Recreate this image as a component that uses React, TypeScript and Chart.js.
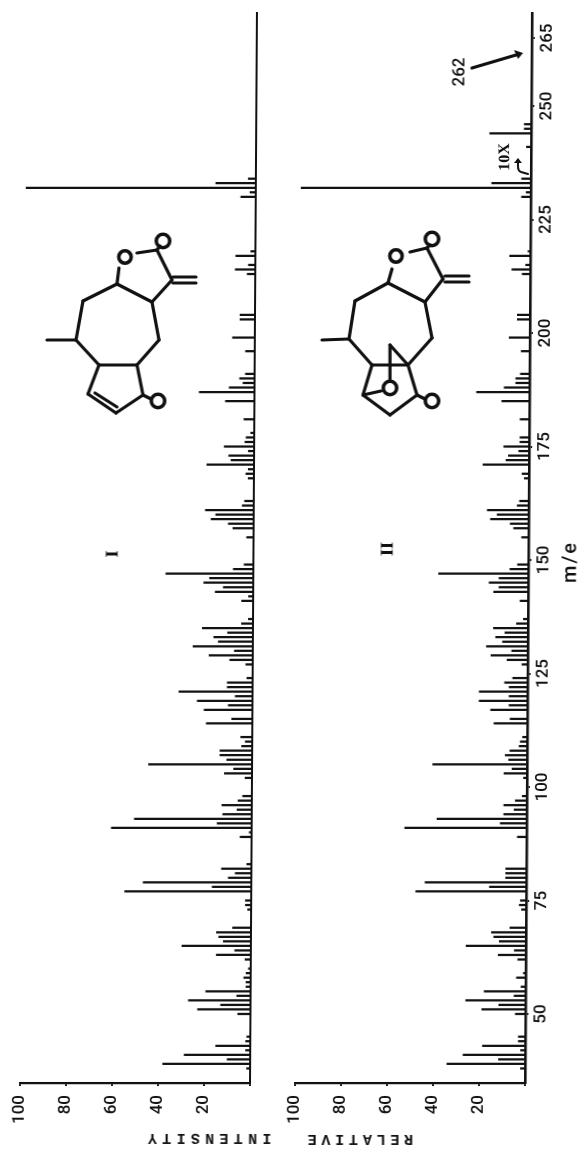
import React, { useEffect, useRef } from "react";
import { Chart, registerables } from "chart.js";

Chart.register(...registerables);

// m/e positions and relative intensities, compound I
const mzI = [38,39,40,41,42,43,44,45,50,51,52,53,54,55,56,57,58,59,60,62,63,64,65,66,67,68,69,73,74,75,77,78,79,80,81,82,83,89,90,91,92,93,94,95,96,97,98,102,103,104,105,106,107,108,109,110,111,114,115,117,118,119,120,121,122,123,124,127,128,129,130,131,132,133,134,135,136,137,141,142,143,144,145,146,147,148,149,155,157,158,159,160,161,162,163,168,169,170,171,172,173,174,175,176,177,178,181,185,187,188,189,190,191,196,199,203,204,213,214,215,217,218,230,231,232,233,234];
const intensityI = [1.5,38,10,28.7,2,15,2,1.5,5.5,23,13,27,6,19.5,2,2,3,2,1,2.5,15,7,30,12,14,15,8,1.5,2.5,2.5,55,17,47,10,7,13,2,5,1,61,15,51,12.6,6.4,13,6,4,3,12,8,45,11,14,14,4.6,3,5,20,9,21,10.5,24,7.5,32,11,11,2.5,3,10,19,8,26,15,17,11,22,5,2,5,2,16.5,13,21.5,19,38,8.7,4,3,9,11,18.5,16.5,21,5,4,2.5,3.5,2.5,20.5,10,11,2.5,13,4,3.5,1.5,4.5,12.6,24,11,5,6.5,4,4,9.7,6.5,6.5,3.5,8.7,3,8.5,2,6.5,2.5,100,17.4,3.3];

// m/e positions and relative intensities, compound II
const mzII = [38,39,40,41,42,43,44,45,50,51,52,53,54,55,56,58,59,62,63,64,65,66,67,68,69,73,74,75,77,78,79,80,81,82,89,91,92,93,94,95,96,97,98,102,103,104,105,106,107,108,109,110,111,114,115,117,118,119,120,121,122,123,124,127,128,129,130,131,132,133,134,135,136,137,141,143,144,145,146,147,148,149,155,157,158,159,160,161,162,163,168,169,171,172,173,174,175,176,177,181,185,187,188,189,190,191,196,199,203,204,213,214,215,217,218,230,231,232,233,234,241,244,245,246];
const intensityII = [2,34,11.6,27,2,18.6,3,3,4.4,19,11.6,26,5,18,2,4,1,3.5,12,5,26,11.6,14,15,7,2,3,2.5,48,16,44,9,9,9,4,53,11.5,39,10,5.5,10,5,2,1.5,10,6.5,41,8,9.5,7.5,3.5,3,2,14.5,7.5,16,8,21,8,21,8,10,6.5,2.5,9,16,7,18,11,14,10,15,5,2,3.5,15,12.7,17,12.7,39,8,4.7,3,6.5,8,16.6,13.7,18,5,4,2,3,20,10,9,4.5,11,4,4,4,12,23,11,6,6,4,3.7,9,5.5,5.5,3.5,8,2,9,1,4,2,100,17,4,2,18,3,3];

const mzTicks = [50,75,100,125,150,175,200,225,250,265];
const intensityTicks = [100,80,60,40,20,0];
const panelNames = ["I","II"];
const axisWords = ["INTENSITY","RELATIVE"];
const xTitle = "m/e";
const molecularIon = "262";
const scaleNote = "10X";

const INK = "#111111";
const SHEAR = 0.0065;
const MZ_MIN = 34.8;
const MZ_MAX = 270.5;
const LABEL_FONT = "500 17px Roboto";

type Seg = number[];
type Ring = [number, number, number];

const bondsI: Seg[] = [
  [137,253,157,250],[157,250,172,280],[173,277,196,277],[173,283,196,283],[172,280,152,302],
  [152,302,117,284],[117,284,119,268],[157,250,160,246],
  [117,284,83,301],[83,301,76,340],[76,340,47,340],[76,340,99,365],[152,302,159,340],[159,340,137,365],
  [99,365,137,365],[99,365,88,394],[88,394,116,413],[116,413,143,395],[143,395,137,365],[95,393,117,407],[143,395,151,399],
];
const ringsI: Ring[] = [[125,257,7],[163,241,7.5],[158,401,7.5]];

const bondsII: Seg[] = [
  [410,252,427,248],[427,248,443,279],[445,276,469,276],[445,282,469,282],[443,279,425,302],
  [425,302,388,283],[388,283,392,269],[427,248,430,245],
  [388,283,355,301],[355,301,349,339],[349,339,322,340],[349,339,372,365],[425,302,432,338],[432,338,408,365],
  [372,365,408,365],[372,365,363,395],[363,395,390,415],[390,415,417,395],[417,395,408,365],[417,395,425,399],
  [390,345,408,365],[390,345,390,380],[363,395,381,391],
  [472,68,516,55],
];
const ringsII: Ring[] = [[396,256,7],[432,239,7.5],[390,388,7.5],[432,401,7.5]];

type Label = { text: string; x: number; y: number; font: string; rot: number; spacing?: string };

const labelsI: Label[] = [
  { text: panelNames[0], x: 113, y: 554, font: "bold 18px 'Liberation Serif'", rot: -Math.PI / 2 },
  { text: axisWords[0], x: 207, y: 1138, font: "bold 15px 'Liberation Mono'", rot: Math.PI, spacing: "5.3px" },
];
const labelsII: Label[] = [
  { text: panelNames[1], x: 388, y: 549, font: "bold 18px 'Liberation Serif'", rot: -Math.PI / 2 },
  { text: axisWords[1], x: 358, y: 1139, font: "bold 15px 'Liberation Mono'", rot: Math.PI, spacing: "4.8px" },
  { text: xTitle, x: 571, y: 562, font: "500 20px Roboto", rot: -Math.PI / 2, spacing: "2px" },
  { text: molecularIon, x: 460, y: 72, font: LABEL_FONT, rot: -Math.PI / 2 },
  { text: scaleNote, x: 505, y: 157, font: "bold 16px 'Liberation Serif'", rot: -Math.PI / 2 },
];

function decorate(offsetX: number, bonds: Seg[], rings: Ring[], labels: Label[], extra?: (c: CanvasRenderingContext2D) => void) {
  return {
    id: "decorate",
    afterDraw(chart: any) {
      const c: CanvasRenderingContext2D = chart.ctx;
      c.save();
      // cancel the page shear for the drawings, which were read in page coordinates
      c.transform(1, 0, SHEAR, 1, -SHEAR * 1083, 0);
      c.translate(-offsetX, 0);
      c.strokeStyle = INK;
      c.fillStyle = INK;
      c.lineWidth = 3.2;
      c.lineCap = "round";
      for (const s of bonds) {
        c.beginPath();
        c.moveTo(s[0], s[1]);
        c.lineTo(s[2], s[3]);
        c.stroke();
      }
      c.lineWidth = 3.6;
      for (const r of rings) {
        c.beginPath();
        c.arc(r[0], r[1], r[2] - 0.8, 0, Math.PI * 2);
        c.stroke();
      }
      if (extra) extra(c);
      for (const l of labels) {
        c.save();
        c.translate(l.x, l.y);
        c.rotate(l.rot);
        c.font = l.font;
        (c as any).letterSpacing = l.spacing || "0px";
        c.textAlign = "center";
        c.textBaseline = "middle";
        c.fillText(l.text, 0, 0);
        c.restore();
      }
      c.restore();
    },
  };
}

function arrows(c: CanvasRenderingContext2D) {
  // head of the 262 arrow
  c.beginPath();
  c.moveTo(523, 53);
  c.lineTo(514, 50);
  c.lineTo(518, 59);
  c.closePath();
  c.fill();
  // bent 10X arrow
  c.lineWidth = 2;
  c.beginPath();
  c.moveTo(528, 174);
  c.lineTo(521, 172);
  c.quadraticCurveTo(518, 171, 518, 167);
  c.lineTo(518, 162);
  c.stroke();
  c.beginPath();
  c.moveTo(518, 158);
  c.lineTo(514, 163);
  c.lineTo(522, 163);
  c.closePath();
  c.fill();
}

function makePanel(
  canvas: HTMLCanvasElement,
  mz: number[],
  values: number[],
  axisSpace: number,
  showMzTicks: boolean,
  plugin: any,
) {
  const tickFont = { family: "Roboto", size: 17, weight: "500" };
  return new Chart(canvas, {
    type: "bar",
    data: {
      datasets: [
        {
          data: mz.map((m, i) => ({ x: values[i], y: m })),
          backgroundColor: INK,
          barThickness: 1.6,
          borderWidth: 0,
        },
      ],
    },
    options: {
      indexAxis: "y",
      animation: false,
      responsive: false,
      devicePixelRatio: 1,
      layout: { autoPadding: false, padding: { left: 20, top: 13, right: 0, bottom: 0 } },
      plugins: { legend: { display: false }, tooltip: { enabled: false } },
      scales: {
        x: {
          type: "linear",
          position: "bottom",
          reverse: true,
          min: 0,
          max: 100,
          border: { display: true, color: INK, width: 2.2 },
          grid: { display: true, drawOnChartArea: false, drawTicks: true, tickLength: 3, color: INK, lineWidth: 2 },
          afterFit(s: any) { s.height = 70; },
          afterBuildTicks(s: any) { s.ticks = intensityTicks.map((value) => ({ value })); },
          ticks: {
            autoSkip: false,
            minRotation: 90,
            maxRotation: 90,
            padding: 9,
            color: INK,
            font: tickFont,
            callback: (v: any) => (v === 0 ? "" : String(v)),
          },
        },
        y: {
          type: "linear",
          position: "right",
          offset: false,
          min: MZ_MIN,
          max: MZ_MAX,
          border: { display: true, color: INK, width: showMzTicks ? 2.6 : 2 },
          grid: { display: showMzTicks, offset: false, drawOnChartArea: false, drawTicks: true, tickLength: 3, color: INK, lineWidth: 2 },
          afterFit(s: any) { s.width = axisSpace; },
          afterBuildTicks(s: any) { s.ticks = mzTicks.map((value) => ({ value })); },
          ticks: {
            display: showMzTicks,
            autoSkip: false,
            minRotation: 90,
            maxRotation: 90,
            crossAlign: "center",
            padding: -2,
            color: INK,
            font: tickFont,
            callback: (v: any) => String(v),
          },
        },
      },
    },
    plugins: [plugin],
  } as any);
}

export default function App() {
  const refI = useRef<HTMLCanvasElement>(null);
  const refII = useRef<HTMLCanvasElement>(null);
  useEffect(() => {
    const a = makePanel(refI.current!, mzI, intensityI, 40, false, decorate(0, bondsI, ringsI, labelsI));
    const b = makePanel(refII.current!, mzII, intensityII, 57, true, decorate(275, bondsII, ringsII, labelsII, arrows));
    return () => {
      a.destroy();
      b.destroy();
    };
  }, []);
  return (
    <div style={{ position: "absolute", left: 0, top: 0, width: 582, height: 1153, overflow: "hidden", background: "#fff" }}>
      <div
        style={{
          position: "absolute",
          left: 0,
          top: 0,
          width: 582,
          height: 1153,
          transformOrigin: "0 1083px",
          transform: `skewX(${(-Math.atan(SHEAR) * 180) / Math.PI}deg)`,
        }}
      >
        <canvas ref={refI} width={290} height={1153} style={{ position: "absolute", left: 0, top: 0, display: "block" }} />
        <canvas ref={refII} width={307} height={1153} style={{ position: "absolute", left: 275, top: 0, display: "block" }} />
      </div>
    </div>
  );
}
